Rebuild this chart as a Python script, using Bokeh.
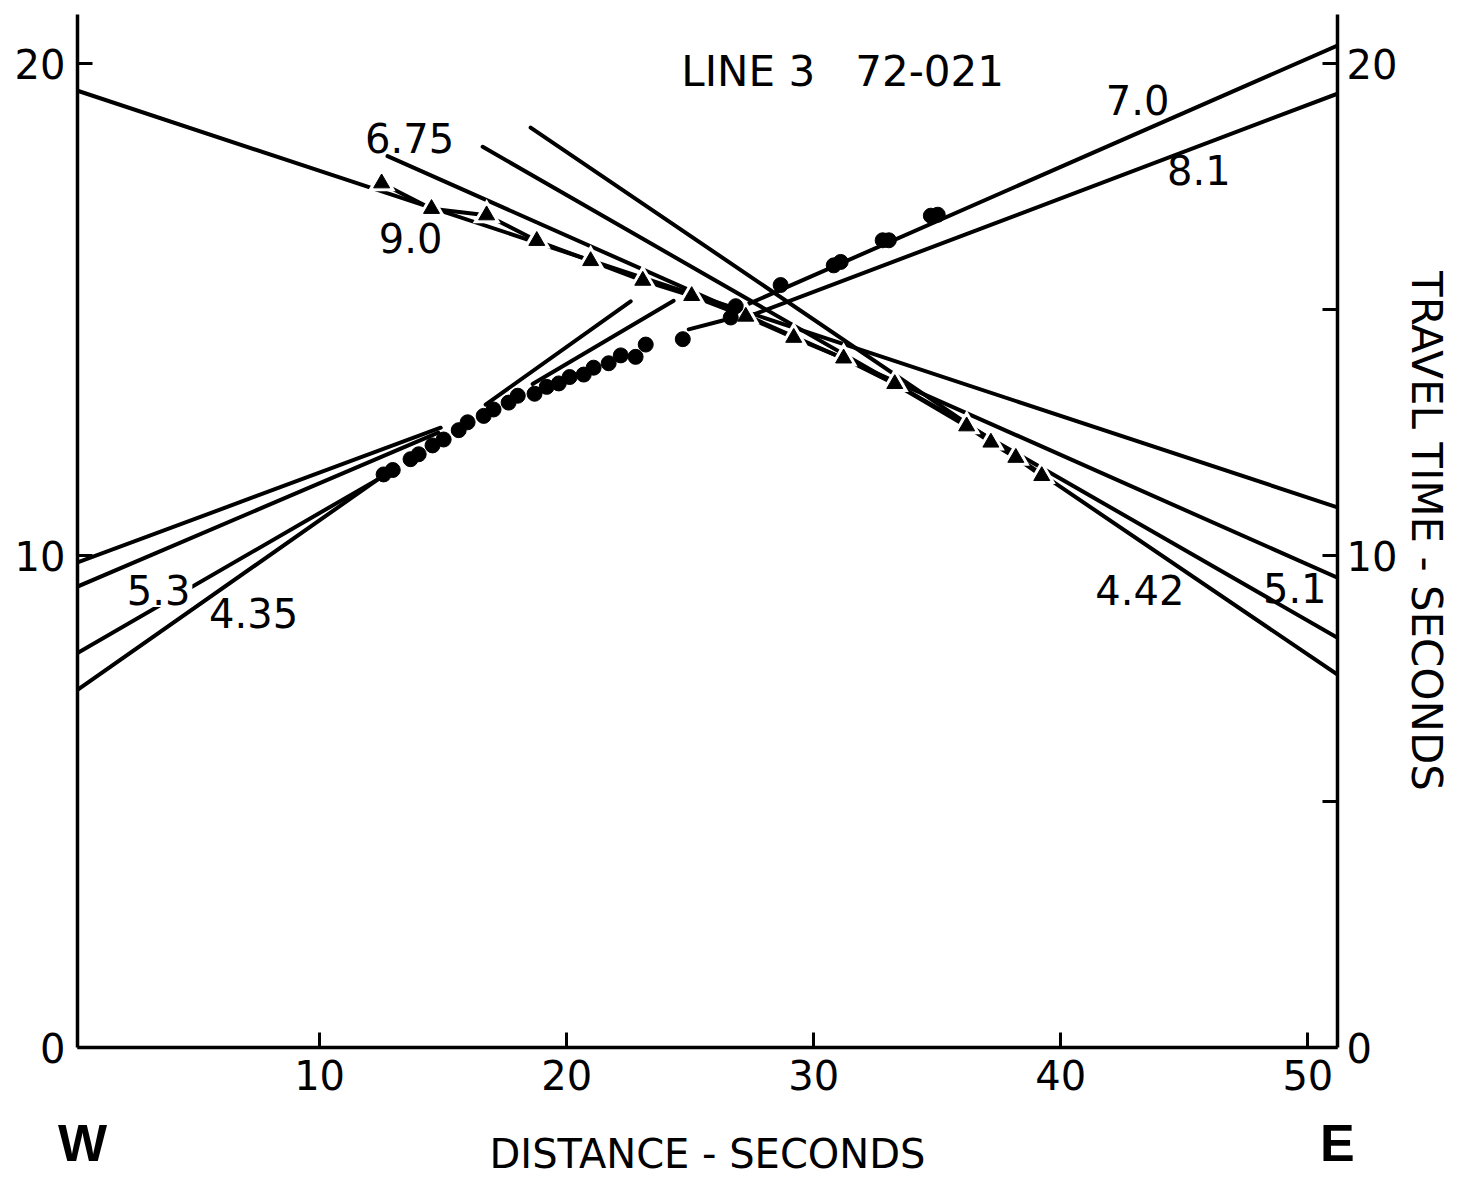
from bokeh.plotting import figure
from bokeh.models import LinearAxis, FixedTicker, Label
from bokeh.embed import file_html
from bokeh.resources import INLINE

FONT = "DejaVu Sans"

# ---- observed picks: triangles (W shot) ----
tri_dist = [12.51, 14.53, 16.76, 18.79, 20.97, 23.08, 25.06, 27.25, 29.19,
            31.21, 33.28, 36.19, 37.17, 38.18, 39.23]
tri_time = [17.57, 17.05, 16.92, 16.40, 15.99, 15.59, 15.28, 14.86, 14.43,
            14.01, 13.49, 12.63, 12.30, 11.99, 11.62]

# ---- observed picks: dots (E shot) ----
dot_dist = [12.59, 12.96, 13.68, 14.01, 14.57, 15.02, 15.63, 15.99, 16.64,
            17.04, 17.65, 18.02, 18.70, 19.19, 19.68, 20.12, 20.69, 21.09,
            21.70, 22.19, 22.79, 23.20, 24.70, 26.64, 26.84, 28.66, 30.81,
            31.09, 32.79, 33.04, 34.74, 35.02]
dot_time = [11.65, 11.74, 11.96, 12.06, 12.24, 12.36, 12.55, 12.71, 12.84,
            12.97, 13.11, 13.25, 13.29, 13.43, 13.50, 13.63, 13.68, 13.82,
            13.91, 14.07, 14.04, 14.29, 14.40, 14.84, 15.07, 15.50, 15.90,
            15.97, 16.41, 16.41, 16.91, 16.93]

# ---- straight-line travel-time fits (start / end) ----
fit_x0 = [0.2, 12.75, 16.60, 18.54, 26.56, 27.04, 0.2, 0.2, 0.2, 0.2, 16.72, 18.62, 24.94]
fit_t0 = [19.45, 18.12, 18.31, 18.70, 14.94, 14.80, 9.86, 9.37, 8.02, 7.27, 13.07, 13.49, 14.60]
fit_x1 = [51.2, 51.2, 51.2, 51.2, 51.2, 51.2, 14.90, 14.80, 12.39, 12.39, 22.59, 24.33, 26.32]
fit_t1 = [10.98, 9.55, 8.33, 7.58, 20.37, 19.39, 12.60, 12.50, 11.56, 11.56, 15.17, 15.18, 14.78]

# ---- velocity annotations ----
vel_text = ["6.75", "9.0", "7.0", "8.1", "5.3", "4.35", "4.42", "5.1"]
vel_x = [13.64, 13.68, 43.11, 45.59, 3.48, 7.33, 43.20, 49.47]
vel_t = [18.48, 16.45, 19.27, 17.84, 9.30, 8.83, 9.30, 9.35]

x_ticks = [10, 20, 30, 40, 50]
left_ticks = [0, 10, 20]
right_ticks = [0, 5, 10, 15, 20]
compass_pos = [0.4, 51.19]
compass_text = ["W", "E"]

p = figure(frame_width=1260, frame_height=1033, x_range=(0.2, 51.2), y_range=(0, 21),
           output_backend="svg", toolbar_location=None,
           min_border_left=77, min_border_right=0, min_border_top=14,
           min_border_bottom=0)
p.outline_line_color = None
p.grid.visible = False
p.background_fill_color = "white"
p.border_fill_color = "white"


def style_axis(ax):
    ax.axis_line_width = 3.5
    ax.axis_line_color = "black"
    ax.major_tick_line_width = 3
    ax.major_tick_line_color = "black"
    ax.major_tick_in = 15
    ax.major_tick_out = 0
    ax.minor_tick_line_color = None
    ax.major_label_text_font = FONT
    ax.major_label_text_font_size = "40px"
    ax.major_label_text_color = "black"
    ax.axis_label_text_font = FONT
    ax.axis_label_text_font_size = "40px"
    ax.axis_label_text_font_style = "normal"
    ax.axis_label_text_color = "black"


xa = p.xaxis[0]
style_axis(xa)
xa.ticker = FixedTicker(ticks=x_ticks)
xa.axis_label = "DISTANCE - SECONDS"
xa.major_label_standoff = 12
xa.axis_label_standoff = 38

# W / E markers on a bare secondary axis, pulled up to the axis-title row
ca = LinearAxis(ticker=FixedTicker(ticks=compass_pos),
                major_label_overrides=dict(zip(compass_pos, compass_text)))
ca.axis_line_color = None
ca.major_tick_line_color = None
ca.minor_tick_line_color = None
ca.major_tick_in = 0
ca.major_tick_out = 0
ca.major_label_text_font = "Liberation Sans"
ca.major_label_text_font_style = "bold"
ca.major_label_text_font_size = "52px"
ca.major_label_text_color = "black"
ca.major_label_standoff = -66
p.add_layout(ca, "below")

ya = p.yaxis[0]
style_axis(ya)
ya.ticker = FixedTicker(ticks=left_ticks)
ya.major_label_standoff = 12

ra = LinearAxis(ticker=FixedTicker(ticks=right_ticks))
style_axis(ra)
ra.major_label_overrides = {5: "", 15: ""}
ra.axis_label = "TRAVEL TIME - SECONDS"
ra.axis_label_text_font_size = "42px"
ra.major_label_standoff = 9
ra.axis_label_standoff = 2
p.add_layout(ra, "right")

# fitted lines
p.segment(x0=fit_x0, y0=fit_t0, x1=fit_x1, y1=fit_t1, line_color="black",
          line_width=4, line_cap="round")

# triangle picks connected
p.line(tri_dist, tri_time, line_color="black", line_width=4)
p.scatter(tri_dist, tri_time, marker="triangle", size=28, fill_color="white",
          line_color=None)
p.scatter(tri_dist, tri_time, marker="triangle", size=16, fill_color="black",
          line_color="black")

# dot picks
p.scatter(dot_dist, dot_time, marker="circle", size=15, fill_color="black",
          line_color="black")

# velocity labels
for t, x, y in zip(vel_text, vel_x, vel_t):
    lab = Label(x=x, y=y, text=t, text_font=FONT, text_font_size="40px",
                text_align="center", text_baseline="middle", text_color="black")
    if t == "5.3":
        lab.background_fill_color = "white"
        lab.padding = 2
    p.add_layout(lab)

p.add_layout(Label(x=31.17, y=19.84, text="LINE 3\u00a0\u00a0\u00a072-021",
                   text_font=FONT, text_font_size="42px", text_align="center",
                   text_baseline="middle", text_color="black"))

open("out.html", "w").write(file_html(p, INLINE))
